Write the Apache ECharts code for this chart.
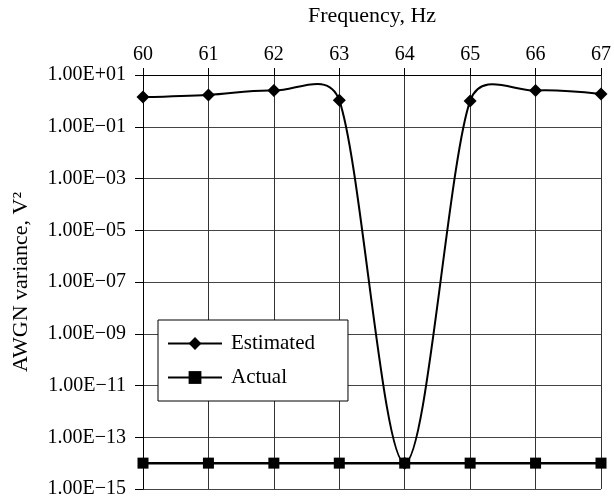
<!DOCTYPE html>
<html>
<head>
<meta charset="utf-8">
<script src="https://cdn.jsdelivr.net/npm/echarts@6/dist/echarts.min.js"></script>
<style>html,body{margin:0;padding:0;background:#fff}#c{width:614px;height:501px}</style>
</head>
<body>
<div id="c"></div>
<script>
const frequencies = [60, 61, 62, 63, 64, 65, 66, 67];
const estimated = [1.4, 1.7, 2.5, 1.05, 1e-14, 1.0, 2.5, 1.85];
const actual = [1e-14, 1e-14, 1e-14, 1e-14, 1e-14, 1e-14, 1e-14, 1e-14];
const seriesNames = ['Estimated', 'Actual'];
const xTitle = 'Frequency, Hz';
const yTitle = 'AWGN variance, V\u00B2';

const FONT = '"Liberation Serif", "Times New Roman", serif';
function fmtY(v) {
  const e = Math.round(Math.log10(v));
  return '1.00E' + (e < 0 ? '\u2212' : '+') + String(Math.abs(e)).padStart(2, '0');
}
// Spreadsheet-style smoothed curve through the data points, positioned with the chart's own scales (api.coord)
function renderSmooth(params, api) {
  if (params.dataIndex !== 0) return null;
  const p = frequencies.map((f, i) => api.coord([f, estimated[i]]));
  const n = p.length;
  const cpPrev = [], cpNext = [];
  for (let i = 0; i < n; i++) {
    if (i === 0 || i === n - 1) { cpPrev[i] = p[i]; cpNext[i] = p[i]; continue; }
    const vx = (p[i + 1][0] - p[i - 1][0]) / 6, vy = (p[i + 1][1] - p[i - 1][1]) / 6;
    const d0 = Math.hypot(p[i][0] - p[i - 1][0], p[i][1] - p[i - 1][1]);
    const d1 = Math.hypot(p[i + 1][0] - p[i][0], p[i + 1][1] - p[i][1]);
    const f0 = Math.min(1, 3.25 * d0 / (d0 + d1)), f1 = Math.min(1, 3.25 * d1 / (d0 + d1));
    cpPrev[i] = [p[i][0] - vx * f0, p[i][1] - vy * f0];
    cpNext[i] = [p[i][0] + vx * f1, p[i][1] + vy * f1];
  }
  let d = 'M' + p[0][0] + ' ' + p[0][1];
  for (let i = 1; i < n; i++) {
    d += ' C' + cpNext[i - 1][0] + ' ' + cpNext[i - 1][1] + ' ' + cpPrev[i][0] + ' ' + cpPrev[i][1] + ' ' + p[i][0] + ' ' + p[i][1];
  }
  return {
    type: 'path',
    shape: {pathData: d},
    style: {fill: null, stroke: '#000', lineWidth: 2},
    silent: true
  };
}
const chart = echarts.init(document.getElementById('c'), null, {renderer: 'canvas'});
chart.setOption({
  animation: false,
  backgroundColor: '#fff',
  grid: {left: 143, right: 10, top: 75, bottom: 12},
  legend: {
    data: [
      {name: seriesNames[0], lineStyle: {color: '#000', width: 2, opacity: 1}},
      {name: seriesNames[1]}
    ],
    orient: 'vertical',
    left: 158, top: 320,
    padding: [13, 33, 13, 9],
    itemGap: 13,
    itemWidth: 54, itemHeight: 16,
    backgroundColor: '#fff',
    borderColor: '#000', borderWidth: 1,
    textStyle: {fontFamily: FONT, fontSize: 21, color: '#000', padding: [0, 0, 0, 4]},
    z: 10
  },
  xAxis: {
    type: 'value', position: 'top', min: 60, max: 67, interval: 1,
    name: xTitle, nameLocation: 'middle', nameGap: 48,
    nameTextStyle: {fontFamily: FONT, fontSize: 22, color: '#000'},
    axisLine: {show: true, lineStyle: {color: '#000', width: 1}},
    axisTick: {show: true, inside: false, length: 7, lineStyle: {color: '#000'}},
    axisLabel: {fontFamily: FONT, fontSize: 20, color: '#000', margin: 10},
    splitLine: {show: true, lineStyle: {color: '#333', width: 1}}
  },
  yAxis: {
    type: 'log', logBase: 10, min: 1e-15, max: 10, interval: 2,
    name: yTitle, nameLocation: 'middle', nameGap: 111,
    nameTextStyle: {fontFamily: FONT, fontSize: 22, color: '#000'},
    axisLine: {show: true, lineStyle: {color: '#000', width: 1}},
    axisTick: {show: true, inside: false, length: 8, lineStyle: {color: '#000'}},
    axisLabel: {fontFamily: FONT, fontSize: 20, color: '#000', margin: 17, formatter: fmtY},
    splitLine: {show: true, lineStyle: {color: '#444', width: 1}}
  },
  series: [
    {
      name: seriesNames[0], type: 'line',
      data: frequencies.map((f, i) => [f, estimated[i]]),
      symbol: 'diamond', symbolSize: 13,
      lineStyle: {color: '#000', width: 2, opacity: 0},
      itemStyle: {color: '#000'}, z: 4
    },
    {
      type: 'custom', name: 'estimated-curve',
      data: frequencies.map((f, i) => [f, estimated[i]]),
      renderItem: renderSmooth, z: 3, silent: true
    },
    {
      name: seriesNames[1], type: 'line',
      data: frequencies.map((f, i) => [f, actual[i]]),
      symbol: 'rect', symbolSize: 11,
      lineStyle: {color: '#000', width: 2.5},
      itemStyle: {color: '#000'}, z: 2
    }
  ]
});
</script>
</body>
</html>
